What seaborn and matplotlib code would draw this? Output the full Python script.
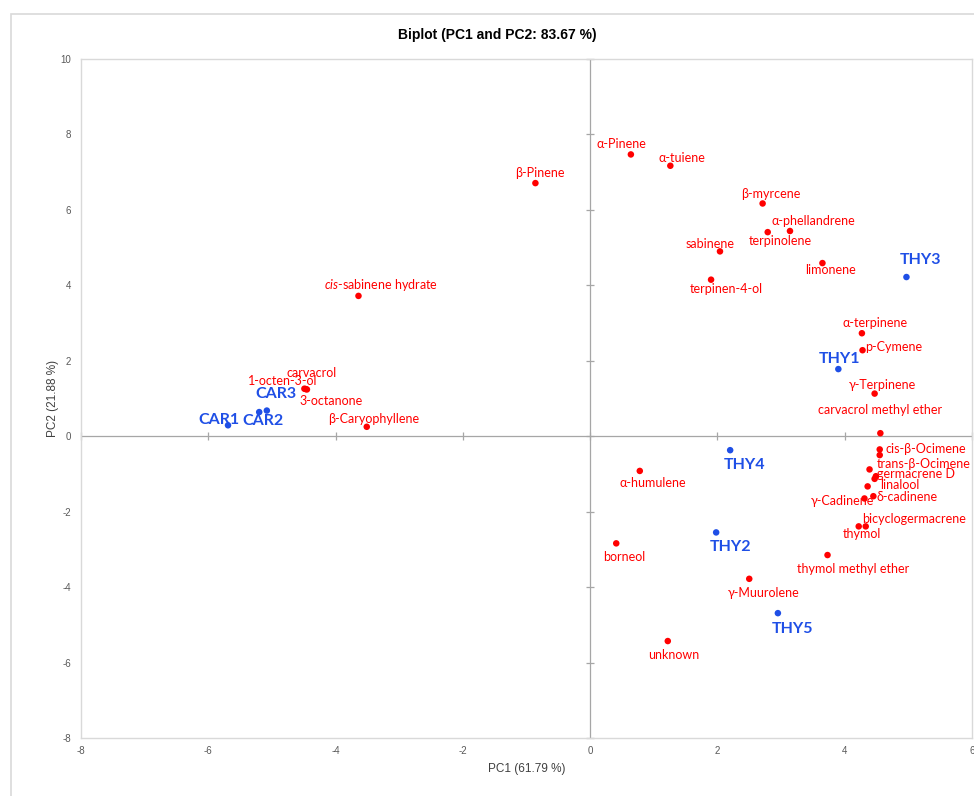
import matplotlib
matplotlib.use("Agg")
import matplotlib.pyplot as plt
from matplotlib.patches import Rectangle
import seaborn as sns
import pandas as pd

# Variable (compound) scores
compounds = ["α-Pinene", "α-tuiene", "β-Pinene", "β-myrcene", "α-phellandrene",
             "terpinolene", "sabinene", "limonene", "terpinen-4-ol",
             "$\\mathit{cis}$-sabinene hydrate", "α-terpinene", "p-Cymene",
             "γ-Terpinene", "carvacrol methyl ether", "cis-β-Ocimene",
             "trans-β-Ocimene", "", "germacrene D", "", "linalool", "δ-cadinene",
             "γ-Cadinene", "thymol", "bicyclogermacrene", "thymol methyl ether",
             "γ-Muurolene", "α-humulene", "borneol", "unknown", "carvacrol",
             "1-octen-3-ol", "3-octanone", "β-Caryophyllene"]
compound_pc1 = [0.64, 1.26, -0.86, 2.71, 3.14, 2.79, 2.04, 3.65, 1.90, -3.64,
                4.27, 4.28, 4.47, 4.56, 4.55, 4.55, 4.39, 4.49, 4.47, 4.36, 4.45,
                4.31, 4.22, 4.33, 3.73, 2.50, 0.78, 0.41, 1.22, -4.49, -4.45,
                -4.47, -3.51]
compound_pc2 = [7.47, 7.17, 6.71, 6.17, 5.44, 5.41, 4.90, 4.59, 4.15, 3.72,
                2.73, 2.28, 1.13, 0.08, -0.35, -0.50, -0.88, -1.06, -1.13, -1.33,
                -1.59, -1.65, -2.39, -2.39, -3.15, -3.78, -0.92, -2.84, -5.43,
                1.26, 1.24, 1.25, 0.25]

# Observation (sample) scores
samples = ["CAR1", "CAR2", "CAR3", "THY1", "THY2", "THY3", "THY4", "THY5"]
sample_pc1 = [-5.69, -5.20, -5.08, 3.90, 1.98, 4.97, 2.20, 2.95]
sample_pc2 = [0.29, 0.64, 0.68, 1.78, -2.55, 4.22, -0.37, -4.69]

x_ticks = [-8, -6, -4, -2, 0, 2, 4, 6]
y_ticks = [-8, -6, -4, -2, 0, 2, 4, 6, 8, 10]

title = "Biplot (PC1 and PC2: 83.67 %)"
x_label = "PC1 (61.79 %)"
y_label = "PC2 (21.88 %)"

# Label placement relative to each point, in pixels (right, down)
label_offsets = {
    "α-Pinene": (-9, -10), "α-tuiene": (12, -8), "β-Pinene": (4, -10.5),
    "β-myrcene": (8.5, -9), "α-phellandrene": (23.7, -10), "terpinolene": (12.7, 8.7),
    "sabinene": (-9.5, -7.7), "limonene": (8, 7.3), "terpinen-4-ol": (14.8, 9),
    "$\\mathit{cis}$-sabinene hydrate": (22.7, -10.7), "α-terpinene": (13.5, -10.7),
    "p-Cymene": (31.2, -3), "γ-Terpinene": (8.1, -8.6),
    "carvacrol methyl ether": (-0.3, -23.5), "cis-β-Ocimene": (46.2, -0.3),
    "trans-β-Ocimene": (44, 9.0), "germacrene D": (40.3, -2.2), "linalool": (32, -1.2),
    "δ-cadinene": (33.4, 0.7), "γ-Cadinene": (-22.1, 2.7), "bicyclogermacrene": (48.6, -7),
    "thymol": (2.9, 7.7), "thymol methyl ether": (25.3, 14), "γ-Muurolene": (14.7, 14.6),
    "α-humulene": (13.2, 12.1), "borneol": (8.5, 13.7), "unknown": (6, 13.5),
    "carvacrol": (7.4, -16.0), "1-octen-3-ol": (-24, -8.2), "3-octanone": (25.3, 11.9),
    "β-Caryophyllene": (7.1, -7.4),
    "THY3": (14.5, -17), "THY1": (0.8, -10), "THY4": (14.1, 15.3), "THY2": (14.1, 15),
    "THY5": (14.3, 16), "CAR3": (8.8, -17), "CAR1": (-8.9, -5), "CAR2": (4, 8.8),
}

RED = "#ff0000"
BLUE = "#1f4fe6"
GRID_GRAY = "#d9d9d9"
AXIS_GRAY = "#a6a6a6"
TEXT_GRAY = "#595959"

sns.set_style("white")
plt.rcParams["font.family"] = ["Lato", "DejaVu Sans"]
plt.rcParams["mathtext.fontset"] = "custom"
plt.rcParams["mathtext.rm"] = "Lato"
plt.rcParams["mathtext.it"] = "Lato:italic"
plt.rcParams["axes.unicode_minus"] = False

df_var = pd.DataFrame({"name": compounds, "PC1": compound_pc1, "PC2": compound_pc2})
df_obs = pd.DataFrame({"name": samples, "PC1": sample_pc1, "PC2": sample_pc2})

fig = plt.figure(figsize=(9.74, 7.96), dpi=100)
ax = fig.add_axes([81 / 974, 1 - 738 / 796, (972 - 81) / 974, (738 - 59) / 796])

# Outer chart border
fig.patches.append(Rectangle((11 / 974, -0.05), 1.2, 1 - 14 / 796 + 0.05,
                             transform=fig.transFigure, fill=False,
                             edgecolor=GRID_GRAY, lw=1.2, zorder=0))

ax.set_xlim(-8, 6)
ax.set_ylim(-8, 10)

# Zero axes with crossing tick marks
ax.axhline(0, color=AXIS_GRAY, lw=0.9, zorder=1)
ax.axvline(0, color=AXIS_GRAY, lw=0.9, zorder=1)
ax.plot(x_ticks, [0] * len(x_ticks), ls="", marker="|", ms=6, mew=0.9,
        color=AXIS_GRAY, zorder=1, clip_on=False)
ax.plot([0] * len(y_ticks), y_ticks, ls="", marker="_", ms=6, mew=0.9,
        color=AXIS_GRAY, zorder=1, clip_on=False)

sns.scatterplot(data=df_var, x="PC1", y="PC2", color=RED, s=22, edgecolor="none",
                ax=ax, zorder=3, legend=False)
sns.scatterplot(data=df_obs, x="PC1", y="PC2", color=BLUE, s=22, edgecolor="none",
                ax=ax, zorder=3, legend=False)

px2pt = 72 / 100
for _, row in df_var.iterrows():
    if not row["name"]:
        continue
    dx, dy = label_offsets[row["name"]]
    ax.annotate(row["name"], (row["PC1"], row["PC2"]), xytext=(dx * px2pt, -dy * px2pt),
                textcoords="offset points", ha="center", va="center",
                color=RED, fontsize=9, zorder=4)
for _, row in df_obs.iterrows():
    dx, dy = label_offsets[row["name"]]
    ax.annotate(row["name"], (row["PC1"], row["PC2"]), xytext=(dx * px2pt, -dy * px2pt),
                textcoords="offset points", ha="center", va="center",
                color=BLUE, fontsize=11.5, fontweight="bold", zorder=4)

ax.set_xticks(x_ticks)
ax.set_yticks(y_ticks)
ax.tick_params(length=0, labelsize=7, labelcolor=TEXT_GRAY)
ax.tick_params(axis="y", pad=7)
ax.tick_params(axis="x", pad=6)
for lab in ax.get_xticklabels() + ax.get_yticklabels():
    lab.set_fontfamily(["Liberation Sans", "DejaVu Sans"])

for sp in ax.spines.values():
    sp.set_color(GRID_GRAY)
    sp.set_linewidth(1.0)

ax.set_xlabel(x_label, fontsize=8.5, color="#404040", labelpad=5,
              family=["Liberation Sans", "DejaVu Sans"])
ax.set_ylabel(y_label, fontsize=8.5, color="#404040", labelpad=1,
              family=["Liberation Sans", "DejaVu Sans"])
fig.text(497 / 974, 1 - 35 / 796, title, ha="center", va="center", fontsize=10,
         fontweight="bold", color="#000000", family=["Liberation Sans", "DejaVu Sans"])

fig.savefig("out.png", dpi=100)
